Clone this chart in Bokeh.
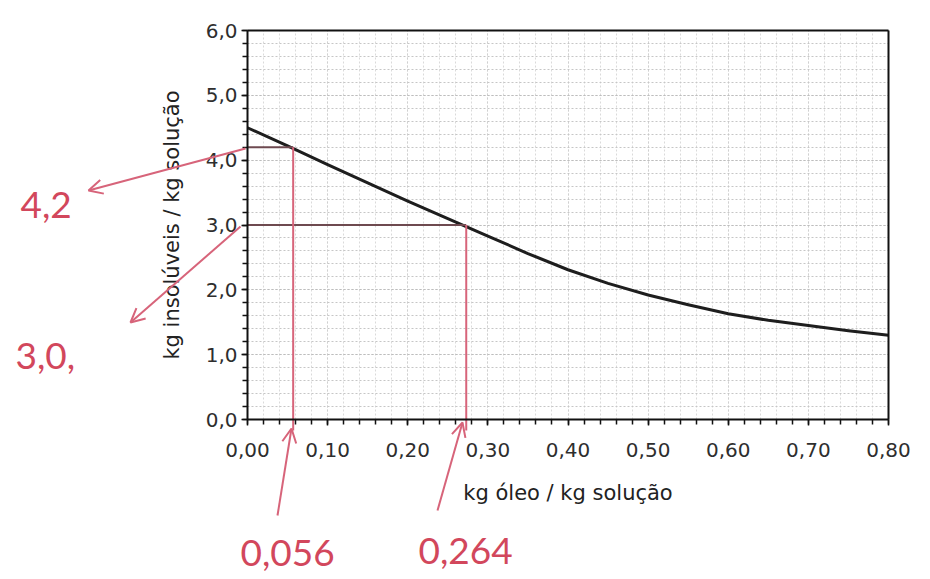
from bokeh.plotting import figure
from bokeh.models import (Range1d, FixedTicker, CustomJSTickFormatter, Arrow, OpenHead,
                          Label, ColumnDataSource, LinearAxis)
from bokeh.embed import file_html
from bokeh.resources import INLINE

# ---- data ----
oil_x = [0.00, 0.05, 0.10, 0.15, 0.20, 0.25, 0.30, 0.35, 0.40, 0.45, 0.50, 0.55, 0.60, 0.65, 0.70, 0.75, 0.80]
insol_y = [4.50, 4.22, 3.93, 3.65, 3.37, 3.10, 2.83, 2.56, 2.31, 2.10, 1.92, 1.77, 1.63, 1.53, 1.45, 1.37, 1.30]

x_ticks = [0.0, 0.1, 0.2, 0.3, 0.4, 0.5, 0.6, 0.7, 0.8]
y_ticks = [0.0, 1.0, 2.0, 3.0, 4.0, 5.0, 6.0]
x_minor = [round(i * 0.02, 2) for i in range(41)]
y_minor = [round(i * 0.2, 1) for i in range(31)]

# reading lines drawn by hand (x where drawn, y level)
read_x = [0.057, 0.273]
read_y = [4.2, 3.0]
notes_y = ["4,2", "3,0,"]
notes_x = ["0,056", "0,264"]

W, H = 930, 579
# page-pixel layout of the chart box (left, right, top, bottom)
FL, FR, FT, FB = 247, 888, 30, 419
XMIN, XMAX, YMIN, YMAX = 0.0, 0.8, 0.0, 6.0
sx = (FR - FL) / (XMAX - XMIN)
sy = (FB - FT) / (YMAX - YMIN)

def X(px):
    return XMIN + (px - FL) / sx

def Y(py):
    return YMIN + (FB - py) / sy

RED = "#d7647a"
RED_TEXT = "#d2475c"
INK = "#111111"

p = figure(width=W, height=H, output_backend="svg", toolbar_location=None,
           x_range=Range1d(X(0), X(W)), y_range=Range1d(Y(H), Y(0)),
           min_border_left=0, min_border_right=0, min_border_top=0, min_border_bottom=0,
           x_axis_location="below", y_axis_location="left")
p.outline_line_color = None
p.background_fill_color = "white"
p.border_fill_color = "white"

# axes fixed at the chart box
p.xaxis.fixed_location = YMIN
p.yaxis.fixed_location = XMIN
p.xaxis.bounds = (XMIN, XMAX)
p.yaxis.bounds = (YMIN, YMAX)
p.xaxis.ticker = FixedTicker(ticks=x_ticks, minor_ticks=x_minor)
p.yaxis.ticker = FixedTicker(ticks=y_ticks, minor_ticks=y_minor)
p.xaxis.formatter = CustomJSTickFormatter(code="return tick.toFixed(2).replace('.', ',');")
p.yaxis.formatter = CustomJSTickFormatter(code="return tick.toFixed(1).replace('.', ',');")
p.xaxis.axis_label = "kg óleo / kg solução"
p.yaxis.axis_label = "kg insolúveis / kg solução"
for ax in (p.xaxis, p.yaxis):
    ax.axis_line_color = INK
    ax.axis_line_width = 2
    ax.major_tick_line_color = INK
    ax.minor_tick_line_color = INK
    ax.major_tick_line_width = 1.5
    ax.minor_tick_line_width = 1.5
    ax.major_tick_in = 0
    ax.major_tick_out = 6
    ax.minor_tick_in = 0
    ax.minor_tick_out = 5
    ax.major_label_text_font = "DejaVu Sans"
    ax.major_label_text_font_size = "20px"
    ax.major_label_text_color = "#2e2e2e"
    ax.axis_label_text_font = "DejaVu Sans"
    ax.axis_label_text_font_size = "21px"
    ax.axis_label_text_font_style = "normal"
    ax.axis_label_text_color = "#222222"
p.xaxis.major_label_standoff = 17
p.yaxis.major_label_standoff = 4
p.xaxis.axis_label_standoff = 21
p.yaxis.axis_label_standoff = 19

# top and right border of the chart box
top = LinearAxis(fixed_location=YMAX, bounds=(XMIN, XMAX), ticker=FixedTicker(ticks=[]),
                 axis_line_color=INK, axis_line_width=2, major_label_text_font_size="0px")
right = LinearAxis(fixed_location=XMAX, bounds=(YMIN, YMAX), ticker=FixedTicker(ticks=[]),
                   axis_line_color=INK, axis_line_width=2, major_label_text_font_size="0px")
p.add_layout(top, "above")
p.add_layout(right, "right")

# grids
for g in (p.xgrid, p.ygrid):
    g.grid_line_dash = "2 2"
    g.minor_grid_line_dash = "2 2"
p.ygrid.grid_line_color = "#bdbdbd"
p.ygrid.minor_grid_line_color = "#c6c6c6"
p.xgrid.grid_line_color = "#d0d0d0"
p.xgrid.minor_grid_line_color = "#dadada"
p.xgrid.bounds = (XMIN, XMAX)
p.ygrid.bounds = (YMIN, YMAX)
try:
    p.xgrid.cross_bounds = (YMIN, YMAX)
    p.ygrid.cross_bounds = (XMIN, XMAX)
except Exception:
    pass

# curve
src = ColumnDataSource(dict(x=oil_x, y=insol_y))
p.line("x", "y", source=src, line_color="#1e1e1e", line_width=3, line_join="round")

# reading lines
p.segment(x0=[XMIN, XMIN], y0=read_y, x1=read_x, y1=read_y, line_color="#6e4a50", line_width=2)
p.segment(x0=read_x, y0=read_y, x1=read_x, y1=[Y(430), Y(430)], line_color=RED, line_width=2)

# hand-drawn arrows (page pixel positions)
arrows_px = [((245, 148), (88, 190)), ((240, 226), (130, 322)),
             ((277, 515), (291, 428)), ((437, 510), (462, 422))]
for (a, b) in arrows_px:
    p.add_layout(Arrow(end=OpenHead(size=14, line_color=RED, line_width=2),
                       x_start=X(a[0]), y_start=Y(a[1]), x_end=X(b[0]), y_end=Y(b[1]),
                       line_color=RED, line_width=2))

# handwritten notes
notes_px = [(notes_y[0], 20, 204), (notes_y[1], 15, 355),
            (notes_x[0], 240, 552), (notes_x[1], 418, 550)]
for txt, px, py in notes_px:
    p.add_layout(Label(x=X(px), y=Y(py), text=txt, text_color=RED_TEXT, text_font="Lato",
                       text_font_size="37px", text_baseline="alphabetic"))

open("out.html", "w").write(file_html(p, INLINE))
